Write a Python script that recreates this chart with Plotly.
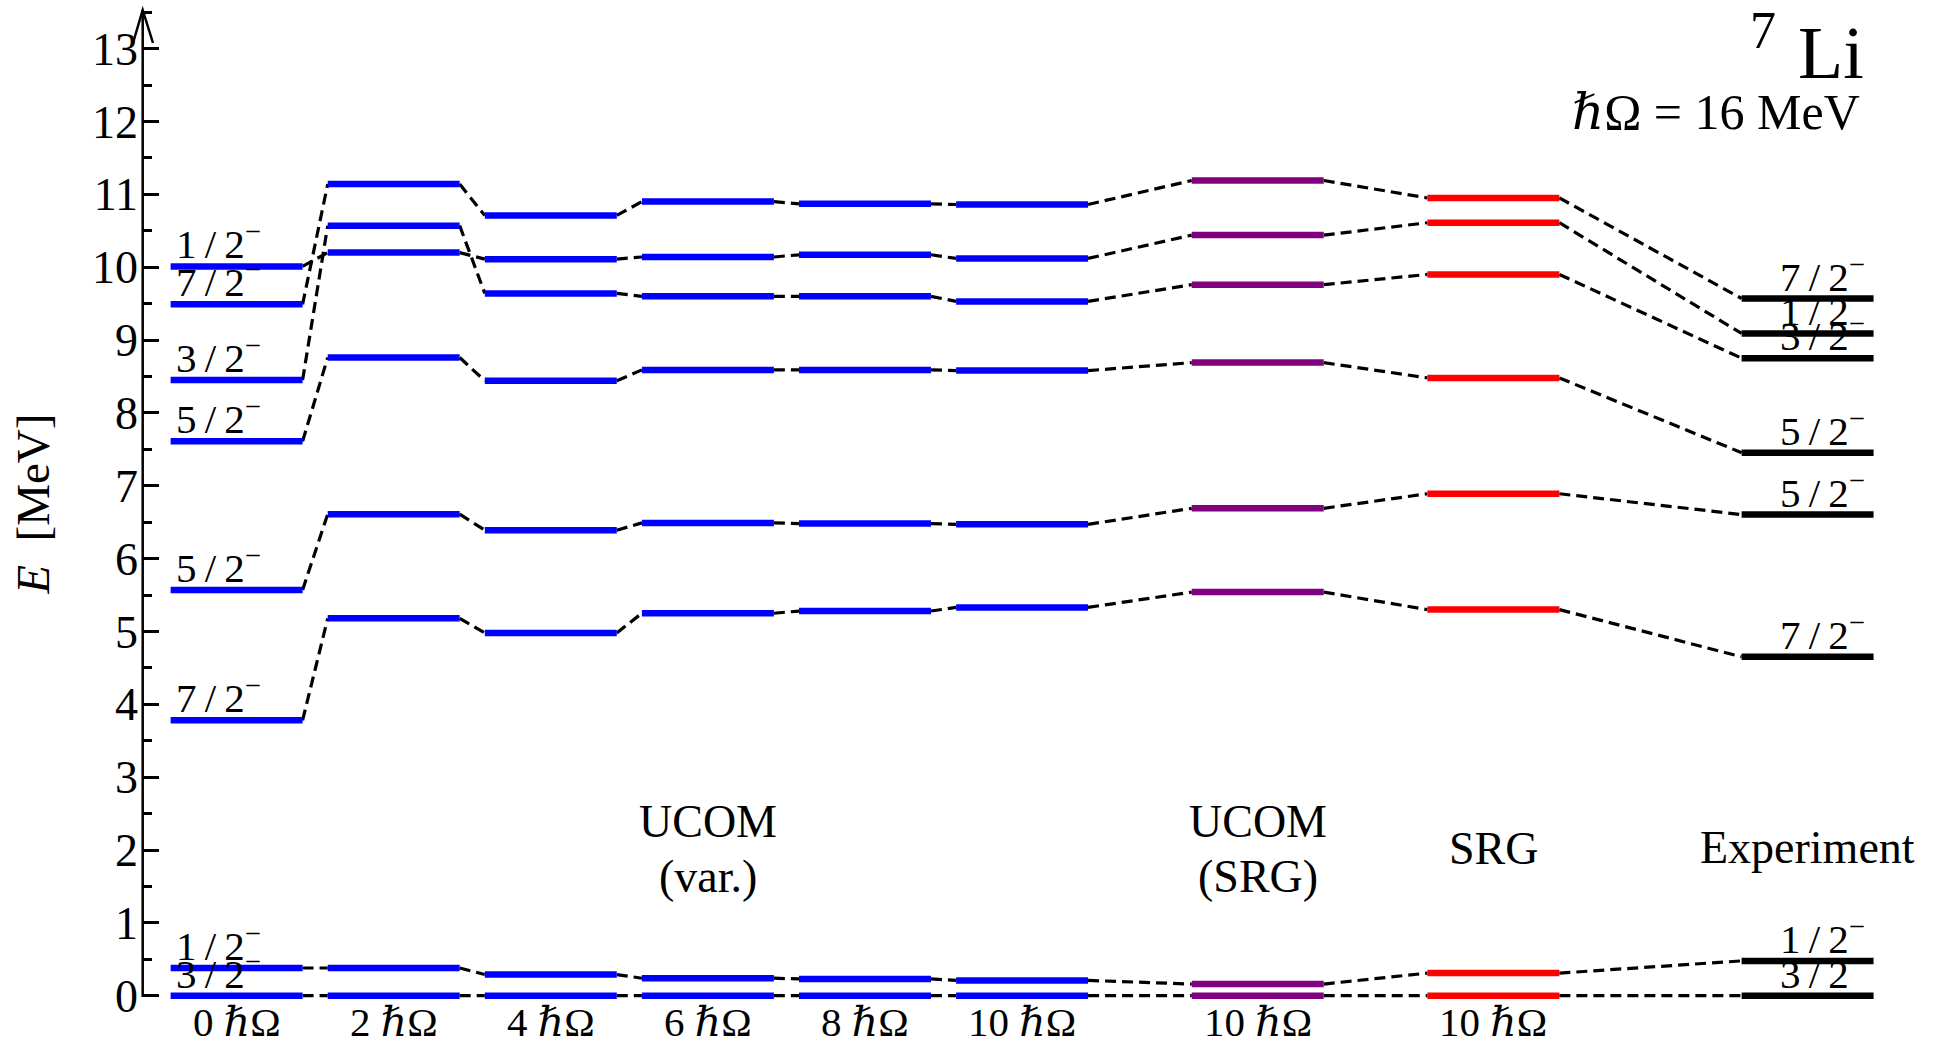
import plotly.graph_objects as go

# ---------------- data ----------------
columns = ["0 ℏΩ", "2 ℏΩ", "4 ℏΩ", "6 ℏΩ", "8 ℏΩ", "10 ℏΩ", "10 ℏΩ", "10 ℏΩ", ""]
column_group = ["var", "var", "var", "var", "var", "var", "ucom_srg", "srg", "exp"]

spins = ["3/2", "1/2", "7/2", "5/2", "5/2", "3/2", "1/2", "7/2"]

E_3_2_a = [0.00, 0.00, 0.00, 0.00, 0.00, 0.00, 0.00, 0.00, 0.000]
E_1_2_a = [0.38, 0.38, 0.29, 0.24, 0.23, 0.21, 0.16, 0.31, 0.478]
E_7_2_a = [3.78, 5.18, 4.98, 5.25, 5.28, 5.33, 5.54, 5.30, 4.652]
E_5_2_a = [5.57, 6.61, 6.39, 6.49, 6.48, 6.47, 6.69, 6.89, 6.604]
E_5_2_b = [7.61, 8.76, 8.44, 8.59, 8.59, 8.58, 8.69, 8.48, 7.454]
E_3_2_b = [8.45, 10.57, 9.64, 9.60, 9.60, 9.53, 9.76, 9.90, 8.750]
E_1_2_b = [10.01, 10.20, 10.11, 10.14, 10.17, 10.12, 10.44, 10.61, 9.090]
E_7_2_b = [9.49, 11.14, 10.71, 10.90, 10.87, 10.86, 11.19, 10.95, 9.570]

states = [E_3_2_a, E_1_2_a, E_7_2_a, E_5_2_a, E_5_2_b, E_3_2_b, E_1_2_b, E_7_2_b]

y_ticks = list(range(0, 14))

# ---------------- layout constants ----------------
col_pos = [0, 1, 2, 3, 4, 5, 6.5, 8, 10]
hw = 0.42
group_color = {"var": "#0000ff", "ucom_srg": "#800080", "srg": "#ff0000", "exp": "#000000"}
FONT = "Liberation Serif, Times New Roman, DejaVu Serif, serif"

W, H = 1953, 1042
ML, MR, MT, MB = 143, 0, 10, 42
PW, PH = W - ML - MR, H - MT - MB


def px2paper_x(px):
    return (px - ML) / PW


def px2paper_y(py):
    return (H - MB - py) / PH


fig = go.Figure()

# dashed connection lines
for E in states:
    xs, ys = [], []
    for i in range(len(col_pos) - 1):
        xs += [col_pos[i] + hw, col_pos[i + 1] - hw, None]
        ys += [E[i], E[i + 1], None]
    fig.add_trace(go.Scatter(x=xs, y=ys, mode="lines",
                             line=dict(color="black", width=3.2, dash="11px,6px"),
                             hoverinfo="skip", showlegend=False))

# level bars
for ci, (cx, grp) in enumerate(zip(col_pos, column_group)):
    xs, ys = [], []
    for E in states:
        xs += [cx - hw, cx + hw, None]
        ys += [E[ci], E[ci], None]
    fig.add_trace(go.Scatter(x=xs, y=ys, mode="lines",
                             line=dict(color=group_color[grp], width=6.5),
                             hoverinfo="skip", showlegend=False))

annotations = []
LBL = 41
# spin labels, first column (left aligned) and experiment (right aligned)
for E, s in zip(states, spins):
    txt = s.replace("/", "\u2009/\u2009") + "<sup>−</sup>"
    annotations.append(dict(x=col_pos[0] - hw + 0.02, y=E[0], xref="x", yref="y",
                            text=txt, showarrow=False, xanchor="left", yanchor="bottom",
                            yshift=-3, font=dict(family=FONT, size=LBL, color="black")))
    annotations.append(dict(x=col_pos[-1] + hw - 0.04, y=E[-1], xref="x", yref="y",
                            text=txt, showarrow=False, xanchor="right", yanchor="bottom",
                            yshift=-3, font=dict(family=FONT, size=LBL, color="black")))

# column labels at the bottom (below the plotting area -> paper y)
for cx, lab in zip(col_pos, columns):
    if not lab:
        continue
    num, rest = lab.split(" ")
    annotations.append(dict(x=cx, y=px2paper_y(1022), xref="x", yref="paper",
                            text=num + " <i>ℏ</i>Ω", showarrow=False,
                            xanchor="center", yanchor="middle",
                            font=dict(family=FONT, size=LBL, color="black")))

CAT = 46
for txt, cx, yy in [("UCOM", 3.0, 2.387), ("(var.)", 3.0, 1.643),
                    ("UCOM", 6.5, 2.387), ("(SRG)", 6.5, 1.643),
                    ("SRG", 8.0, 2.014), ("Experiment", 10.0, 2.028)]:
    annotations.append(dict(x=cx, y=yy, xref="x", yref="y", text=txt, showarrow=False,
                            xanchor="center", yanchor="middle",
                            font=dict(family=FONT, size=CAT, color="black")))

# y-axis title
annotations.append(dict(x=px2paper_x(33), y=6.74, xref="paper", yref="y",
                        text="<i>E</i>  [MeV]", textangle=-90, showarrow=False,
                        xanchor="center", yanchor="middle",
                        font=dict(family=FONT, size=47, color="black")))

# nucleus label
annotations.append(dict(x=px2paper_x(1866), y=px2paper_y(53), xref="paper", yref="paper",
                        text="Li", showarrow=False, xanchor="right", yanchor="middle",
                        font=dict(family=FONT, size=74, color="black")))
annotations.append(dict(x=px2paper_x(1778), y=px2paper_y(30), xref="paper", yref="paper",
                        text="7", showarrow=False, xanchor="right", yanchor="middle",
                        font=dict(family=FONT, size=52, color="black")))
annotations.append(dict(x=px2paper_x(1862), y=px2paper_y(112), xref="paper", yref="paper",
                        text="<i>ℏ</i>Ω = 16 MeV", showarrow=False, xanchor="right",
                        yanchor="middle", font=dict(family=FONT, size=50, color="black")))

# arrow head on the y axis
ax_x = px2paper_x(142.7)
shapes = [dict(type="path", xref="paper", yref="paper",
               path=f"M {px2paper_x(133)},{px2paper_y(43)} L {ax_x},{px2paper_y(10)} "
                    f"L {px2paper_x(153)},{px2paper_y(43)}",
               line=dict(color="black", width=2.5)),
          dict(type="line", xref="paper", yref="paper", x0=ax_x, x1=ax_x,
               y0=px2paper_y(997), y1=px2paper_y(10), line=dict(color="black", width=2.5))]

x_left = -0.5958
x_right = 10.9256
y_lo = -0.059
y_hi = 13.53

fig.update_layout(
    width=W, height=H,
    margin=dict(l=ML, r=MR, t=MT, b=MB, pad=0),
    paper_bgcolor="white", plot_bgcolor="white",
    showlegend=False,
    annotations=annotations, shapes=shapes,
    xaxis=dict(range=[x_left, x_right], showgrid=False, zeroline=False,
               showticklabels=False, ticks="", showline=False, fixedrange=True),
    yaxis=dict(range=[y_lo, y_hi], showgrid=False, zeroline=False, showline=False,
               tickmode="array", tickvals=y_ticks, ticktext=[str(v) for v in y_ticks],
               ticks="inside", ticklen=16, tickwidth=3, tickcolor="black",
               minor=dict(ticks="inside", ticklen=9, tickwidth=2.5, tickcolor="black",
                          dtick=0.5, tick0=0.5),
               tickfont=dict(family=FONT, size=46, color="black"),
               ticklabelstandoff=4, fixedrange=True),
)

fig.write_html("out.html", config={"displayModeBar": False})
